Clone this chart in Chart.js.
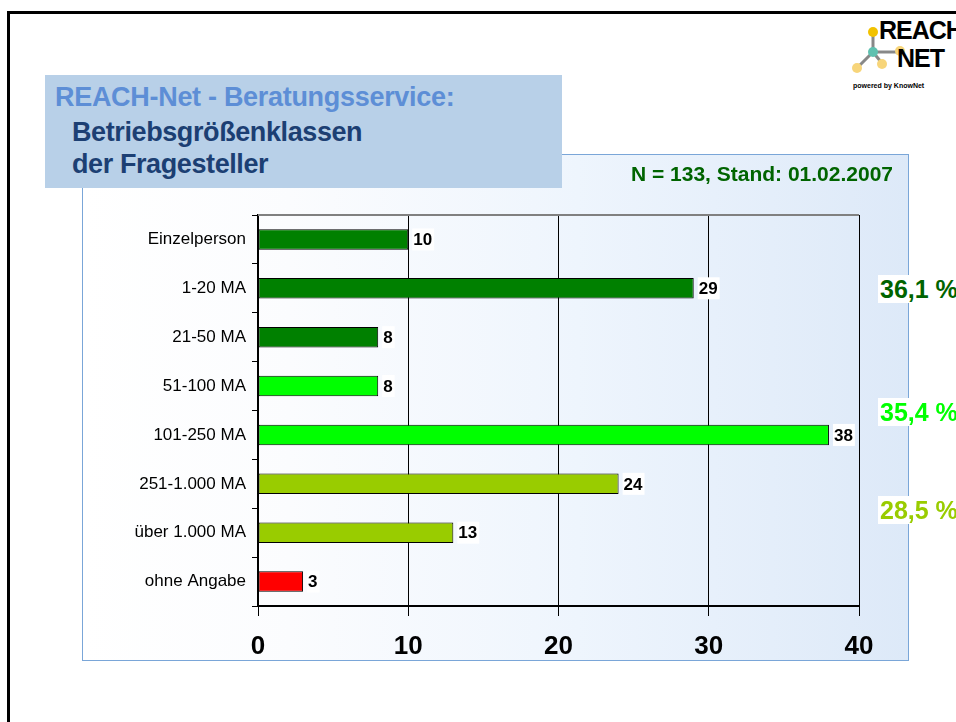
<!DOCTYPE html>
<html>
<head>
<meta charset="utf-8">
<script src="https://cdn.jsdelivr.net/npm/chart.js@4"></script>
<style>
  html, body { margin: 0; padding: 0; background: #fff; }
  body { width: 956px; height: 722px; position: relative; overflow: hidden; font-family: Arial, "Liberation Sans", sans-serif; }
  .frame { position: absolute; left: 7px; top: 11px; width: 1000px; height: 800px; border-left: 3px solid #000; border-top: 3px solid #000; }
  .panel { position: absolute; left: 82px; top: 154px; width: 825px; height: 505px; border: 1px solid #7aa6d8;
           background: linear-gradient(to right, #ffffff 0%, #fbfcfe 25%, #eef5fd 60%, #dde9f8 100%); }
  .panel canvas { position: absolute; left: 0; top: 0; }
  .titlebox { position: absolute; left: 45px; top: 75px; width: 517px; height: 113px; background: #b8d0e8; }
  .t1 { position: absolute; left: 55px; top: 82px; font-size: 27px; font-weight: bold; color: #5d8ed6; white-space: nowrap; letter-spacing: -0.3px; }
  .t2 { position: absolute; left: 72px; top: 116px; font-size: 27px; font-weight: bold; color: #1c3f73; line-height: 32px; white-space: nowrap; letter-spacing: -0.4px; }
  .nline { position: absolute; right: 63px; top: 162px; font-size: 21px; font-weight: bold; color: #006400; white-space: nowrap; }
  .pct { position: absolute; left: 878px; font-size: 25px; font-weight: bold; background: #fff; padding: 0 2px; white-space: nowrap; line-height: 28px; }
  .logo { position: absolute; left: 845px; top: 14px; width: 120px; height: 80px; }
  .logo .w1 { position: absolute; left: 34px; top: 2px; font-size: 25px; font-weight: bold; letter-spacing: -1px; }
  .logo .w2 { position: absolute; left: 52px; top: 30px; font-size: 25px; font-weight: bold; letter-spacing: -1px; }
  .logo .w3 { position: absolute; left: 8px; top: 68px; font-size: 7px; font-weight: bold; white-space: nowrap; }
</style>
</head>
<body>
<div class="frame"></div>
<div class="logo">
  <svg width="60" height="70" style="position:absolute;left:0;top:0">
    <line x1="28" y1="38" x2="28" y2="18" stroke="#888" stroke-width="3"/>
    <line x1="28" y1="38" x2="52" y2="38" stroke="#888" stroke-width="3"/>
    <line x1="28" y1="38" x2="14" y2="52" stroke="#888" stroke-width="3"/>
    <line x1="28" y1="38" x2="36" y2="48" stroke="#888" stroke-width="3"/>
    <circle cx="28" cy="18" r="5" fill="#f2c200"/>
    <circle cx="28" cy="38" r="5" fill="#5fc1b0"/>
    <circle cx="55" cy="37" r="5" fill="#f7d57a"/>
    <circle cx="12" cy="54" r="5" fill="#f7d57a"/>
    <circle cx="37" cy="50" r="5" fill="#f7d57a"/>
  </svg>
  <div class="w1">REACH</div>
  <div class="w2">NET</div>
  <div class="w3">powered by KnowNet</div>
</div>
<div class="panel"><canvas id="chart" width="825" height="505"></canvas></div>
<div class="titlebox"></div>
<div class="t1">REACH-Net - Beratungsservice:</div>
<div class="t2">Betriebsgrößenklassen<br>der Fragesteller</div>
<div class="nline">N = 133, Stand: 01.02.2007</div>
<div class="pct" style="top:275px;color:#006400">36,1 %</div>
<div class="pct" style="top:398px;color:#00ff00">35,4 %</div>
<div class="pct" style="top:496px;color:#99cc00">28,5 %</div>
<script>
// categories and counts
const categories = ['Einzelperson', '1-20 MA', '21-50 MA', '51-100 MA', '101-250 MA', '251-1.000 MA', 'über 1.000 MA', 'ohne Angabe'];
const counts = [10, 29, 8, 8, 38, 24, 13, 3];
const barColors = ['#008000', '#008000', '#008000', '#00ff00', '#00ff00', '#99cc00', '#99cc00', '#ff0000'];
const xTicks = [0, 10, 20, 30, 40];

// value labels on a white box, plus the grey top frame line
const valueLabels = {
  id: 'valueLabels',
  beforeDatasetsDraw(chart) {
    const { ctx, chartArea } = chart;
    ctx.save();
    ctx.strokeStyle = '#808080';
    ctx.lineWidth = 2;
    ctx.beginPath();
    ctx.moveTo(chartArea.left, chartArea.top);
    ctx.lineTo(chartArea.right, chartArea.top);
    ctx.stroke();
    ctx.restore();
  },
  afterDatasetsDraw(chart) {
    const ctx = chart.ctx;
    const meta = chart.getDatasetMeta(0);
    ctx.save();
    ctx.font = 'bold 17px Arial';
    ctx.textBaseline = 'middle';
    meta.data.forEach((bar, i) => {
      const txt = String(counts[i]);
      const w = ctx.measureText(txt).width;
      const x = bar.x + 5;
      ctx.fillStyle = '#fff';
      ctx.fillRect(x - 1, bar.y - 11, w + 3, 22);
      ctx.fillStyle = '#000';
      ctx.fillText(txt, x, bar.y + 1);
    });
    ctx.restore();
  }
};

new Chart(document.getElementById('chart'), {
  type: 'bar',
  data: {
    labels: categories,
    datasets: [{
      data: counts,
      backgroundColor: barColors,
      borderColor: '#000',
      borderWidth: 1,
      borderSkipped: false,
      categoryPercentage: 1,
      barPercentage: 0.42
    }]
  },
  options: {
    indexAxis: 'y',
    responsive: false,
    animation: false,
    layout: { padding: { left: 0, top: 60, right: 49, bottom: 0 } },
    plugins: { legend: { display: false }, tooltip: { enabled: false } },
    scales: {
      x: {
        min: 0, max: 40,
        afterBuildTicks: s => { s.ticks = xTicks.map(v => ({ value: v })); },
        afterFit: s => { s.height = 54; },
        ticks: { color: '#000', font: { size: 26, weight: 'bold', family: 'Arial' }, padding: 15 },
        grid: { color: '#000', lineWidth: 1, tickLength: 10 },
        border: { color: '#000', width: 2 }
      },
      y: {
        afterFit: s => { s.width = 175; },
        ticks: { color: '#000', font: { size: 17, family: 'Arial' }, padding: 6 },
        grid: { drawOnChartArea: false, offset: true, color: '#000', tickLength: 6 },
        border: { color: '#000', width: 2 }
      }
    }
  },
  plugins: [valueLabels]
});
</script>
</body>
</html>
